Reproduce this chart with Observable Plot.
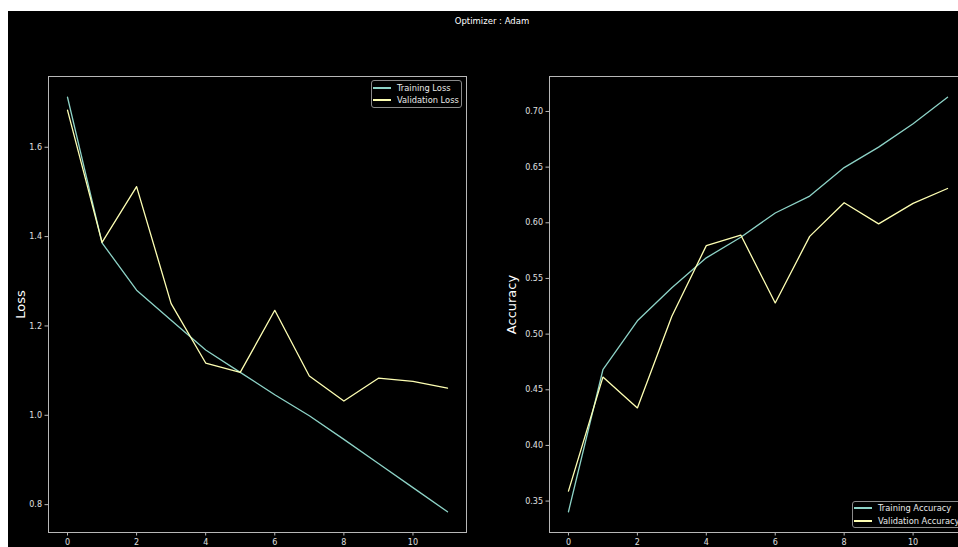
<!DOCTYPE html>
<html><head><meta charset="utf-8">
<script src="https://cdn.jsdelivr.net/npm/d3@7"></script>
<script src="https://cdn.jsdelivr.net/npm/@observablehq/plot@0.6"></script>
<style>
html,body{margin:0;padding:0;background:#fff;}
#fig{position:absolute;left:8px;top:11px;width:950px;height:536px;background:#000;overflow:hidden;font-family:"DejaVu Sans",sans-serif;}
#fig svg{position:absolute;top:0;}
.title{position:absolute;top:4px;left:0;width:968px;text-align:center;color:#fff;font-size:8.5px;line-height:12px;}
.legend{position:absolute;box-sizing:border-box;border:1px solid #8a8a8a;border-radius:3px;background:rgba(0,0,0,0.8);color:#e8e8e8;font-size:8.3px;padding-top:0.5px;}
.legend .row{display:flex;align-items:center;height:12.5px;white-space:nowrap;}
.legend .sw{display:inline-block;width:18px;height:1.6px;margin-left:1.5px;margin-right:6px;}
</style>
</head><body>
<div id="fig"></div>
<script>
const title = "Optimizer : Adam";
const epochs = [0,1,2,3,4,5,6,7,8,9,10,11];
const trainLoss = [1.712,1.386,1.280,1.213,1.146,1.096,1.046,0.999,0.946,0.892,0.838,0.784];
const valLoss   = [1.683,1.387,1.512,1.250,1.117,1.096,1.235,1.088,1.032,1.083,1.076,1.061];
const trainAcc  = [0.3404,0.468,0.512,0.5417,0.5685,0.587,0.6088,0.624,0.6496,0.668,0.689,0.7128];
const valAcc    = [0.3589,0.4614,0.4337,0.516,0.5795,0.589,0.528,0.5878,0.618,0.599,0.6174,0.6308];
const xTicks = [0,2,4,6,8,10];
const lossTicks = [0.8,1.0,1.2,1.4,1.6];
const accTicks = [0.35,0.40,0.45,0.50,0.55,0.60,0.65,0.70];
const lossNames = ["Training Loss","Validation Loss"];
const accNames = ["Training Accuracy","Validation Accuracy"];
const colors = ["#8dd3c7","#feffb3"];

const fig = document.getElementById("fig");

function pad(arr){const lo=d3.min(arr),hi=d3.max(arr),p=(hi-lo)*0.05;return [lo-p,hi+p];}
const xDomain = pad(epochs);

function panel(series, names, yTicks, fmt, ylabel, opts){
  const rows = [];
  series.forEach((s,k)=>s.forEach((v,i)=>rows.push({epoch:epochs[i], value:v, name:names[k]})));
  const all = series.flat();
  return Plot.plot({
    width: opts.width, height: 536,
    marginLeft: opts.marginLeft, marginRight: opts.marginRight, marginTop: 65, marginBottom: 15,
    style: {background:"#000", color:"#e0e0e0", fontFamily:"DejaVu Sans, sans-serif", fontSize:"8px", overflow:"visible"},
    x: {domain: xDomain},
    y: {domain: pad(all)},
    color: {domain: names, range: colors},
    marks: [
      Plot.line(rows, {x:"epoch", y:"value", z:"name", stroke:"name", strokeWidth:1.3}),
      Plot.frame({stroke:"#b8b8b8", strokeWidth:1}),
      Plot.axisX({ticks:xTicks, tickFormat:d3.format("d"), tickSize:3.5, tickPadding:3, stroke:"#b8b8b8", color:"#e0e0e0", fontSize:8, label:null}),
      Plot.axisY({ticks:yTicks, tickFormat:d3.format(fmt), tickSize:3.5, tickPadding:3, stroke:"#b8b8b8", color:"#e0e0e0", fontSize:8, label:null}),
      Plot.text([ylabel], {frameAnchor:"left", dx:-opts.labelDx, rotate:-90, fontSize:13, fill:"#fff", textAnchor:"middle", lineAnchor:"middle"})
    ]
  });
}

const left = panel([trainLoss,valLoss], lossNames, lossTicks, ".1f", "Loss", {width:470, marginLeft:40, marginRight:12, labelDx:28});
left.style.left = "0px";
fig.appendChild(left);
const right = panel([trainAcc,valAcc], accNames, accTicks, ".2f", "Accuracy", {width:488, marginLeft:71, marginRight:0, labelDx:38});
right.style.left = "470px";
fig.appendChild(right);

const t = document.createElement("div");
t.className = "title"; t.textContent = title; fig.appendChild(t);

function legend(names, x, y, w){
  const L = document.createElement("div");
  L.className = "legend";
  L.style.left = x+"px"; L.style.top = y+"px"; L.style.width = w+"px"; L.style.height = "27.5px";
  names.forEach((n,i)=>{
    const r = document.createElement("div"); r.className="row";
    const s = document.createElement("span"); s.className="sw"; s.style.background = colors[i];
    const tx = document.createElement("span"); tx.textContent = n;
    r.appendChild(s); r.appendChild(tx); L.appendChild(r);
  });
  fig.appendChild(L);
}
legend(lossNames, 362.5, 69, 91);
legend(accNames, 843.5, 489.5, 118);
</script>
</body></html>
